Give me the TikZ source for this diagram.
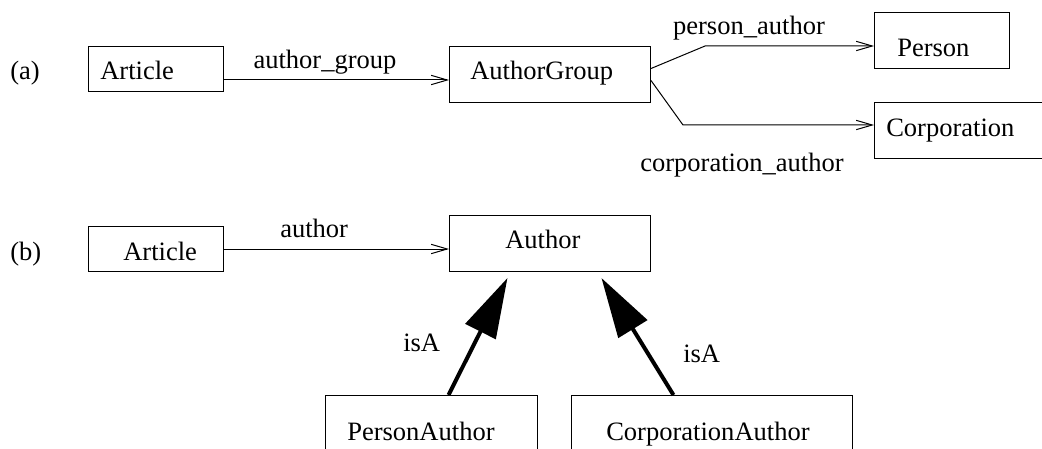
\documentclass[tikz,border=0pt]{standalone}
\usepackage{fontspec}
\setmainfont{Liberation Serif}
\usetikzlibrary{arrows.meta}
\begin{document}
\begin{tikzpicture}[x=0.75pt,y=-0.75pt,
  box/.style={draw,line width=0.75pt,inner sep=0pt,anchor=north west},
  txt/.style={inner sep=0pt,anchor=base west,font=\fontsize{19.9pt}{24pt}\selectfont},
  ctxt/.style={inner sep=0pt,anchor=base,font=\fontsize{19.9pt}{24pt}\selectfont},
  arr/.style={line width=0.75pt,-{Straight Barb[length=12pt,width=7pt,line width=0.75pt]}},
  isa/.style={line width=3pt,-{Triangle[length=45pt,width=25pt]}}]
\useasboundingbox (0,0) rectangle (1042,449);
\clip (0,0) rectangle (1042,449);
% (a)
\node[txt] (la) at (10,80) {(a)};
\node[box,minimum width=101.25pt,minimum height=33.75pt] (artA) at (88,46) {};
\node[txt] (artAt) at (100,80) {Article};
\node[box,minimum width=150.75pt,minimum height=42pt] (grp) at (449,46) {};
\node[txt] (grpt) at (470,80) {AuthorGroup};
\node[box,minimum width=101.25pt,minimum height=42pt] (per) at (874,12) {};
\node[txt] (pert) at (897,57) {Person};
\node[box,minimum width=135pt,minimum height=42pt] (corp) at (874,102) {};
\node[txt] (corpt) at (886,137) {Corporation};
\coordinate (a1) at ([yshift=-8.25pt]artA.east);
\draw[arr] (a1) -- (a1 -| grp.west);
\node[ctxt] (lag) at (325,69) {author\_group};
\coordinate (g1) at ([yshift=4.5pt]grp.east);
\coordinate (pb) at (705,46);
\draw[arr] (g1) -- (pb) -- (pb -| per.west);
\node[ctxt] (lpa) at (749,35) {person\_author};
\coordinate (g2) at ([yshift=-4.5pt]grp.east);
\coordinate (cb) at (683,125);
\draw[arr] (g2) -- (cb) -- (cb -| corp.west);
\node[ctxt] (lca) at (742,172) {corporation\_author};
% (b)
\node[txt] (lb) at (10,260) {(b)};
\node[box,minimum width=101.25pt,minimum height=33.75pt] (artB) at (88,226) {};
\node[txt] (artBt) at (123,260) {Article};
\node[box,minimum width=150.75pt,minimum height=42pt] (auth) at (449,215) {};
\node[txt] (autht) at (505,248) {Author};
\draw[arr] (artB.east) -- (artB.east -| auth.west);
\node[txt] (lau) at (280,237) {author};
\node[box,minimum width=159pt,minimum height=52.5pt] (pa) at (325,395) {};
\node[txt] (pat) at (347,440) {PersonAuthor};
\node[box,minimum width=210.75pt,minimum height=52.5pt] (ca) at (571,395) {};
\node[txt] (cat) at (606,440) {CorporationAuthor};
\draw[isa] ([xshift=12.75pt]pa.north) -- ([xshift=-31.9pt,yshift=-4.5pt]auth.south);
\draw[isa] ([xshift=-28.9pt]ca.north) -- ([xshift=38.6pt,yshift=-4.5pt]auth.south);
\node[txt] (li1) at (403,351) {isA};
\node[txt] (li2) at (683,362) {isA};
\end{tikzpicture}
\end{document}
